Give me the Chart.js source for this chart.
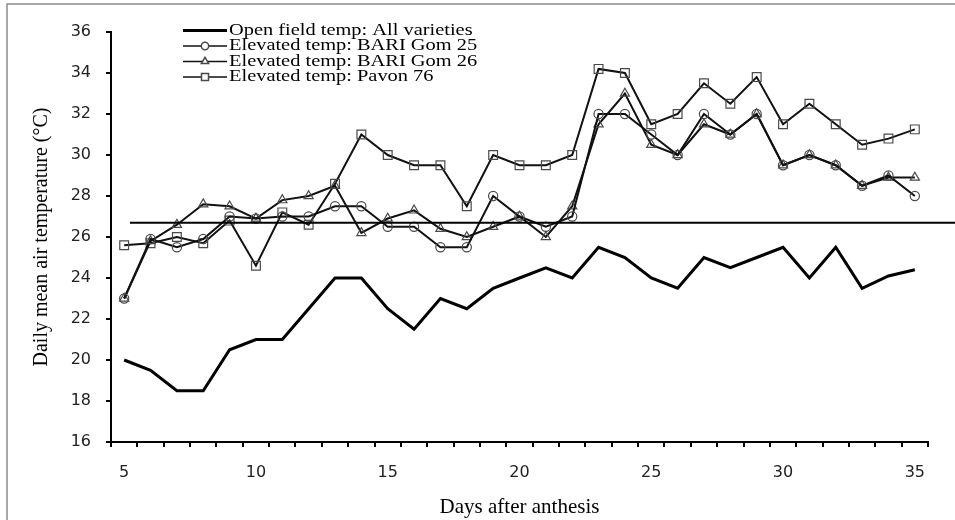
<!DOCTYPE html>
<html>
<head>
<meta charset="utf-8">
<script src="https://cdn.jsdelivr.net/npm/chart.js@4/dist/chart.umd.min.js"></script>
<style>
  html, body { margin: 0; padding: 0; background: #fff; }
  canvas { display: block; }
</style>
</head>
<body>
<canvas id="tempChart" width="955" height="520"></canvas>
<script>
// days after anthesis
const days = [5, 6, 7, 8, 9, 10, 11, 12, 13, 14, 15, 16, 17, 18, 19, 20,
              21, 22, 23, 24, 25, 26, 27, 28, 29, 30, 31, 32, 33, 34, 35];

const openField = [20, 19.5, 18.5, 18.5, 20.5, 21, 21, 22.5, 24, 24, 22.5,
                   21.5, 23, 22.5, 23.5, 24, 24.5, 24, 25.5, 25, 24, 23.5,
                   25, 24.5, 25, 25.5, 24, 25.5, 23.5, 24.1, 24.4];
const bariGom25 = [23, 25.9, 25.5, 25.9, 27, 26.9, 27, 27, 27.5, 27.5, 26.5,
                   26.5, 25.5, 25.5, 28, 27, 26.5, 27, 32, 32, 31, 30,
                   32, 31, 32, 29.5, 30, 29.5, 28.5, 29, 28];
const bariGom26 = [23, 25.8, 26.6, 27.6, 27.5, 26.9, 27.8, 28, 28.5, 26.2, 26.9,
                   27.3, 26.4, 26, 26.5, 27, 26, 27.5, 31.5, 33, 30.5, 30,
                   31.5, 31, 32, 29.5, 30, 29.5, 28.5, 28.9, 28.9];
const pavon76 = [25.6, 25.7, 26, 25.7, 26.8, 24.6, 27.2, 26.6, 28.6, 31, 30,
                 29.5, 29.5, 27.5, 30, 29.5, 29.5, 30, 34.2, 34, 31.5, 32,
                 33.5, 32.5, 33.8, 31.5, 32.5, 31.5, 30.5, 30.8, 31.25];

// horizontal reference line
const threshold = 26.7;

const serif = '"Liberation Serif", "Times New Roman", serif';
const sans = '"DejaVu Sans", Verdana, sans-serif';

// frame round the figure
const framePlugin = {
    id: 'frame',
    beforeDraw(chart) {
        const ctx = chart.ctx;
        ctx.save();
        ctx.fillStyle = '#fff';
        ctx.fillRect(0, 0, chart.width, chart.height);
        ctx.strokeStyle = '#8c8c8c';
        ctx.lineWidth = 1.5;
        ctx.strokeRect(7, 4, chart.width + 20, chart.height + 20);
        ctx.restore();
    }
};

const thresholdPlugin = {
    id: 'threshold',
    afterDatasetsDraw(chart) {
        const ctx = chart.ctx;
        const y = chart.scales.y.getPixelForValue(threshold);
        ctx.save();
        ctx.strokeStyle = '#000';
        ctx.lineWidth = 2;
        ctx.beginPath();
        ctx.moveTo(chart.chartArea.left + 19, y);
        ctx.lineTo(chart.width, y);
        ctx.stroke();
        ctx.restore();
    }
};

// legend with a line sample and its marker
const sampleLegend = {
    id: 'sampleLegend',
    afterDraw(chart) {
        const ctx = chart.ctx;
        const x0 = 183, x1 = 227, top = 30.5, row = 15.5;
        ctx.save();
        ctx.font = '17px ' + serif;
        ctx.textBaseline = 'middle';
        chart.data.datasets.forEach((ds, i) => {
            const y = top + i * row;
            ctx.strokeStyle = ds.borderColor;
            ctx.lineWidth = ds.borderWidth > 2 ? 3 : 1.5;
            ctx.beginPath();
            ctx.moveTo(x0, y);
            ctx.lineTo(x1, y);
            ctx.stroke();
            if (ds.pointRadius > 0) {
                ctx.strokeStyle = ds.pointBorderColor;
                ctx.fillStyle = '#fff';
                Chart.helpers.drawPoint(ctx, {
                    pointStyle: ds.pointStyle,
                    radius: ds.pointRadius * 0.8,
                    borderWidth: 1.2,
                    rotation: 0
                }, (x0 + x1) / 2, y);
            }
            ctx.save();
            ctx.translate(x1 + 2, y);
            ctx.scale(1.2, 1);
            ctx.fillStyle = '#000';
            ctx.fillText(ds.label, 0, 0);
            ctx.restore();
        });
        ctx.restore();
    }
};

const markerColor = '#4a4a4a';

new Chart(document.getElementById('tempChart'), {
    type: 'line',
    data: {
        labels: days,
        datasets: [
            {
                label: 'Open field temp: All varieties',
                data: openField,
                borderColor: '#000',
                borderWidth: 3,
                pointRadius: 0,
                tension: 0
            },
            {
                label: 'Elevated temp: BARI Gom 25',
                data: bariGom25,
                borderColor: '#111',
                borderWidth: 2,
                pointStyle: 'circle',
                pointRadius: 4.6,
                pointBorderColor: markerColor,
                pointBackgroundColor: 'rgba(0,0,0,0)',
                pointBorderWidth: 1.2,
                tension: 0
            },
            {
                label: 'Elevated temp: BARI Gom 26',
                data: bariGom26,
                borderColor: '#111',
                borderWidth: 2,
                pointStyle: 'triangle',
                pointRadius: 5.3,
                pointBorderColor: markerColor,
                pointBackgroundColor: 'rgba(0,0,0,0)',
                pointBorderWidth: 1.2,
                tension: 0
            },
            {
                label: 'Elevated temp: Pavon 76',
                data: pavon76,
                borderColor: '#111',
                borderWidth: 2,
                pointStyle: 'rect',
                pointRadius: 6.2,
                pointBorderColor: markerColor,
                pointBackgroundColor: 'rgba(0,0,0,0)',
                pointBorderWidth: 1.2,
                tension: 0
            }
        ]
    },
    options: {
        responsive: false,
        animation: false,
        layout: { padding: { top: 32, right: 27, bottom: 0, left: 0 } },
        plugins: {
            legend: { display: false },
            tooltip: { enabled: false }
        },
        scales: {
            x: {
                type: 'category',
                offset: true,
                border: { color: '#000', width: 2 },
                grid: {
                    offset: true,
                    drawOnChartArea: false,
                    drawTicks: true,
                    tickLength: 5,
                    color: '#000',
                    lineWidth: 2
                },
                ticks: {
                    autoSkip: false,
                    maxRotation: 0,
                    padding: 16,
                    color: '#222',
                    font: { family: sans, size: 16 },
                    callback: function (value) {
                        const d = this.getLabelForValue(value);
                        return d % 5 === 0 ? d : '';
                    }
                },
                title: {
                    display: true,
                    text: 'Days after anthesis',
                    color: '#000',
                    font: { family: serif, size: 21 },
                    padding: { top: 0, bottom: 0 }
                },
                afterFit(scale) { scale.height = 78; }
            },
            y: {
                min: 16,
                max: 36,
                border: { color: '#000', width: 2 },
                grid: {
                    drawOnChartArea: false,
                    drawTicks: true,
                    tickLength: 5,
                    color: '#000',
                    lineWidth: 2
                },
                ticks: {
                    stepSize: 1,
                    padding: 15,
                    color: '#222',
                    font: { family: sans, size: 16 },
                    callback: v => (v % 2 === 0 ? v : '')
                },
                title: {
                    display: true,
                    text: 'Daily mean air temperature (\u00B0C)',
                    color: '#000',
                    font: { family: serif, size: 20 },
                    padding: { top: 30, bottom: 0 }
                },
                afterFit(scale) { scale.width = 111; }
            }
        }
    },
    plugins: [framePlugin, thresholdPlugin, sampleLegend]
});
</script>
</body>
</html>
